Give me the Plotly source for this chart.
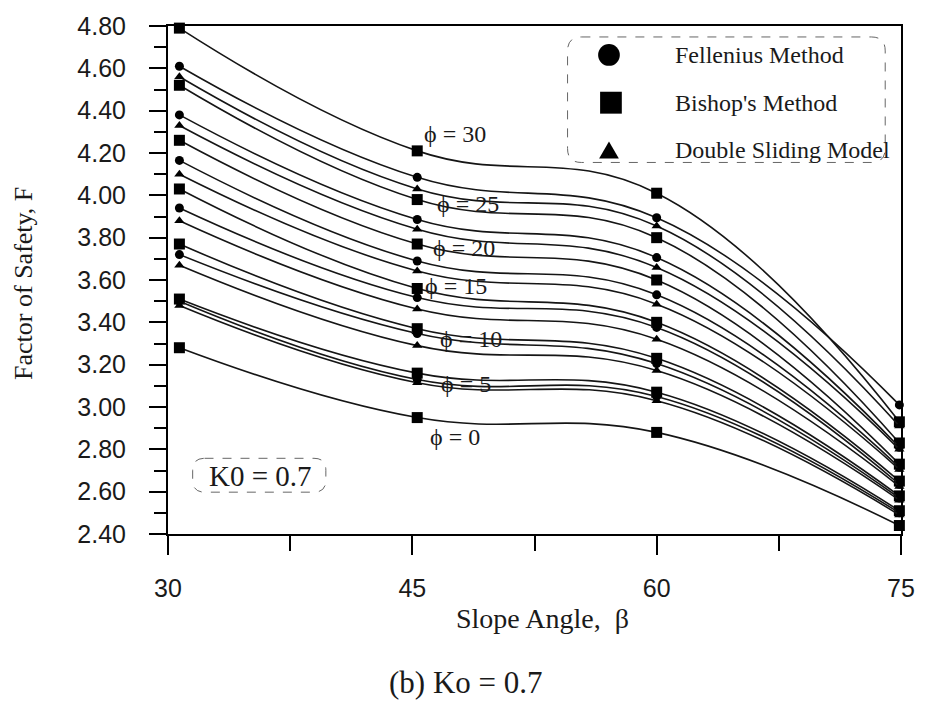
import plotly.graph_objects as go

# Slope angle (deg) at which each factor of safety was evaluated
beta = [30.7, 45.3, 60.0, 74.9]

# Friction angles of the curves, top group first
phi_list = [30, 25, 20, 15, 10, 5, 0]

# Factor of safety, Bishop's method
bishop = {
    30: [4.79, 4.21, 4.01, 2.93],
    25: [4.52, 3.98, 3.80, 2.83],
    20: [4.26, 3.77, 3.60, 2.73],
    15: [4.03, 3.56, 3.40, 2.65],
    10: [3.77, 3.37, 3.23, 2.58],
    5:  [3.51, 3.16, 3.07, 2.51],
    0:  [3.28, 2.95, 2.88, 2.44],
}

# Factor of safety, Fellenius method
fellenius = {
    30: [4.61, 4.085, 3.894, 3.01],
    25: [4.38, 3.886, 3.706, 2.81],
    20: [4.165, 3.69, 3.53, 2.715],
    15: [3.94, 3.517, 3.376, 2.635],
    10: [3.72, 3.347, 3.205, 2.57],
    5:  [3.50, 3.13, 3.05, 2.50],
}

# Factor of safety, double sliding model
double_sliding = {
    30: [4.56, 4.03, 3.855, 2.91],
    25: [4.33, 3.84, 3.659, 2.80],
    20: [4.10, 3.643, 3.486, 2.705],
    15: [3.88, 3.463, 3.32, 2.625],
    10: [3.67, 3.29, 3.172, 2.56],
    5:  [3.48, 3.115, 3.03, 2.49],
}

# Where each phi label sits (slope angle, factor of safety)
phi_label_pos = {
    30: (47.6, 4.29),
    25: (48.4, 3.96),
    20: (48.2, 3.75),
    15: (47.7, 3.57),
    10: (48.6, 3.32),
    5:  (48.3, 3.11),
    0:  (47.6, 2.86),
}

x_ticks = [30, 45, 60, 75]
x_minor = [37.5, 52.5, 67.5]

W, H = 927, 703
M_L, M_R, M_T, M_B = 168, 16, 24, 169
PW, PH = W - M_L - M_R, H - M_T - M_B

SERIF = "Liberation Serif, Times New Roman, serif"
SANS = "Liberation Sans, Arial, sans-serif"
INK = "#1a1a1a"


def fx(px):
    """Page x pixel -> paper fraction."""
    return (px - M_L) / PW


def fy(py):
    """Page y pixel -> paper fraction."""
    return (H - M_B - py) / PH


def rounded_box(x0, y0, x1, y1, r):
    """Rounded rectangle path in paper units from page pixels."""
    pts = [
        f"M {fx(x0 + r)},{fy(y0)}",
        f"L {fx(x1 - r)},{fy(y0)}",
        f"Q {fx(x1)},{fy(y0)} {fx(x1)},{fy(y0 + r)}",
        f"L {fx(x1)},{fy(y1 - r)}",
        f"Q {fx(x1)},{fy(y1)} {fx(x1 - r)},{fy(y1)}",
        f"L {fx(x0 + r)},{fy(y1)}",
        f"Q {fx(x0)},{fy(y1)} {fx(x0)},{fy(y1 - r)}",
        f"L {fx(x0)},{fy(y0 + r)}",
        f"Q {fx(x0)},{fy(y0)} {fx(x0 + r)},{fy(y0)}",
        "Z",
    ]
    return " ".join(pts)


def page_text(px, py, text, size, anchor="center", angle=0):
    return dict(
        x=fx(px), y=fy(py), xref="paper", yref="paper", text=text, showarrow=False,
        xanchor=anchor, yanchor="middle", textangle=angle,
        font=dict(family=SERIF, size=size, color=INK),
    )


fig = go.Figure()

method_styles = [
    (bishop, "square", 11),
    (fellenius, "circle", 9),
    (double_sliding, "triangle-up", 9),
]

for data, symbol, size in method_styles:
    for phi in phi_list:
        if phi not in data:
            continue
        fig.add_trace(go.Scatter(
            x=beta, y=data[phi],
            mode="lines+markers",
            line=dict(color="#151515", width=1.6, shape="spline", smoothing=1.2),
            marker=dict(symbol=symbol, size=size, color="black"),
            cliponaxis=False,
            showlegend=False,
            hoverinfo="skip",
        ))

annotations = []
for phi in phi_list:
    lx, ly = phi_label_pos[phi]
    annotations.append(dict(
        x=lx, y=ly, xref="x", yref="y", text=f"ϕ = {phi}", showarrow=False,
        xanchor="center", yanchor="middle",
        font=dict(family=SERIF, size=24, color=INK),
    ))

# Axis titles, caption and the K0 note
annotations += [
    page_text(22, 282, "Factor of Safety, F", 26, angle=-90),
    page_text(548, 619, "Slope Angle,  β", 28),
    page_text(470, 683, "(b) Ko = 0.7", 31),
    page_text(262, 476, "K0 = 0.7", 29),
]

# Legend entries
legend_rows = [("Fellenius Method", 53), ("Bishop's Method", 101), ("Double Sliding Model", 148)]
for label, ry in legend_rows:
    annotations.append(page_text(680, ry, label, 24, anchor="left"))

shapes = [
    dict(type="path", xref="paper", yref="paper", path=rounded_box(573, 35, 895, 161, 14),
         line=dict(color="#666", width=1, dash="dash")),
    dict(type="path", xref="paper", yref="paper", path=rounded_box(193, 458, 328, 492, 12),
         line=dict(color="#666", width=1, dash="dash")),
    dict(type="circle", xref="paper", yref="paper",
         x0=fx(615 - 11), x1=fx(615 + 11), y0=fy(53 + 11), y1=fy(53 - 11),
         fillcolor="black", line=dict(width=0)),
    dict(type="rect", xref="paper", yref="paper",
         x0=fx(617 - 11), x1=fx(617 + 11), y0=fy(101 + 11), y1=fy(101 - 11),
         fillcolor="black", line=dict(width=0)),
    dict(type="path", xref="paper", yref="paper",
         path=f"M {fx(605)},{fy(157)} L {fx(625)},{fy(157)} L {fx(615)},{fy(140)} Z",
         fillcolor="black", line=dict(width=0)),
]

fig.update_layout(
    width=W, height=H,
    margin=dict(l=M_L, r=M_R, t=M_T, b=M_B),
    paper_bgcolor="white", plot_bgcolor="white",
    annotations=annotations,
    shapes=shapes,
    xaxis=dict(
        range=[30, 75], tickvals=x_ticks, ticks="outside", ticklen=19, tickwidth=1.5,
        tickcolor="black", showline=True, linecolor="black", linewidth=2, mirror=True,
        showgrid=False, zeroline=False, ticklabelstandoff=12,
        tickfont=dict(family=SANS, size=25, color=INK),
        minor=dict(tickvals=x_minor, ticks="outside", ticklen=15, tickwidth=1.5, tickcolor="black"),
    ),
    yaxis=dict(
        range=[2.4, 4.8], dtick=0.2, tick0=2.4, tickformat=".2f", ticks="outside", ticklen=17,
        tickwidth=1.5, tickcolor="black", showline=True, linecolor="black", linewidth=2,
        mirror=True, showgrid=False, zeroline=False, ticklabelstandoff=18,
        tickfont=dict(family=SANS, size=25, color=INK),
        minor=dict(dtick=0.1, ticks="outside", ticklen=12, tickwidth=1.5, tickcolor="black"),
    ),
)

fig.write_html("out.html")
